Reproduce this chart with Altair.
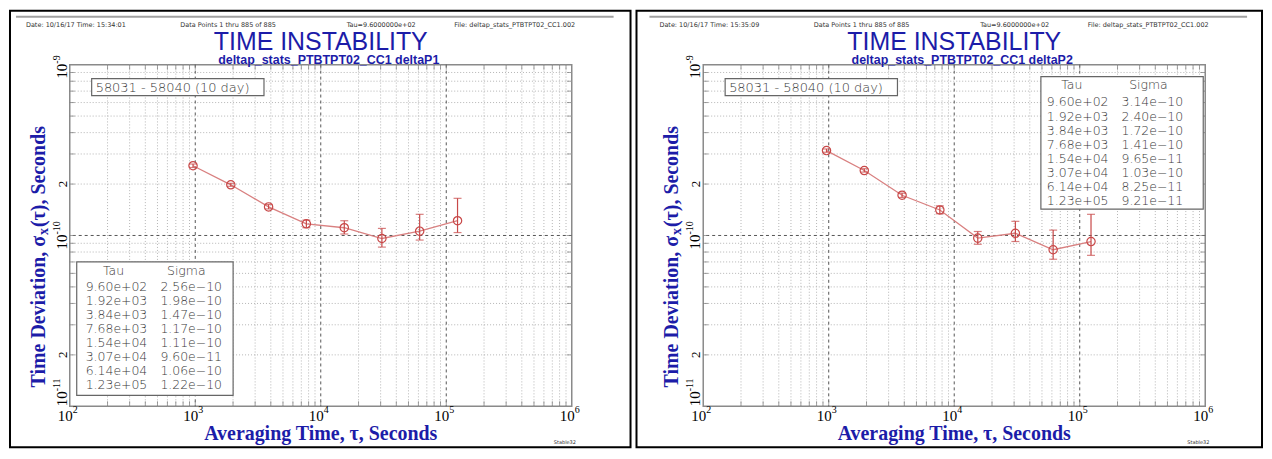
import altair as alt
import pandas as pd

# ---------------- data ----------------
tau = [960, 1920, 3840, 7680, 15400, 30700, 61400, 123000]
tau_txt = ["9.60e+02", "1.92e+03", "3.84e+03", "7.68e+03",
           "1.54e+04", "3.07e+04", "6.14e+04", "1.23e+05"]

sigma_p1 = [2.56e-10, 1.98e-10, 1.47e-10, 1.17e-10, 1.11e-10, 9.60e-11, 1.06e-10, 1.22e-10]
sigma_p1_txt = ["2.56e-10", "1.98e-10", "1.47e-10", "1.17e-10",
                "1.11e-10", "9.60e-11", "1.06e-10", "1.22e-10"]
lo_p1 = [2.50e-10, 1.94e-10, 1.43e-10, 1.11e-10, 1.02e-10, 8.55e-11, 9.40e-11, 1.04e-10]
hi_p1 = [2.62e-10, 2.02e-10, 1.52e-10, 1.23e-10, 1.22e-10, 1.10e-10, 1.33e-10, 1.65e-10]

sigma_p2 = [3.14e-10, 2.40e-10, 1.72e-10, 1.41e-10, 9.65e-11, 1.03e-10, 8.25e-11, 9.21e-11]
sigma_p2_txt = ["3.14e-10", "2.40e-10", "1.72e-10", "1.41e-10",
                "9.65e-11", "1.03e-10", "8.25e-11", "9.21e-11"]
lo_p2 = [3.07e-10, 2.35e-10, 1.67e-10, 1.34e-10, 8.88e-11, 9.22e-11, 7.26e-11, 7.65e-11]
hi_p2 = [3.21e-10, 2.46e-10, 1.77e-10, 1.49e-10, 1.055e-10, 1.21e-10, 1.075e-10, 1.33e-10]

x_tick_vals = [1e2, 1e3, 1e4, 1e5, 1e6]
x_tick_exp = ["2", "3", "4", "5", "6"]
y_tick_vals_upper = [1e-9, 1e-10]
y_tick_exp_upper = ["-9", "-10"]
y_tick_vals_lower = [1e-11]
y_tick_exp_lower = ["-11"]
y_minor_lab_vals = [2e-10, 2e-11]
major_x = [1e3, 1e4, 1e5]
major_y = [1e-10]
mults = [2, 3, 4, 5, 6, 7, 8, 9]
minor_x = [m * d for d in [1e2, 1e3, 1e4, 1e5] for m in mults]
minor_y = [m * d for d in [1e-11, 1e-10] for m in mults]

headers_p1 = ["Date: 10/16/17  Time: 15:34:01", "Data Points 1 thru 885 of 885",
              "Tau=9.6000000e+02", "File: deltap_stats_PTBTPT02_CC1.002"]
headers_p2 = ["Date: 10/16/17  Time: 15:35:09", "Data Points 1 thru 885 of 885",
              "Tau=9.6000000e+02", "File: deltap_stats_PTBTPT02_CC1.002"]
title_txt = "TIME INSTABILITY"
subtitle_p1 = "deltap_stats_PTBTPT02_CC1 deltaP1"
subtitle_p2 = "deltap_stats_PTBTPT02_CC1 deltaP2"
range_txt = "58031 - 58040 (10 day)"

# ---------------- style ----------------
W, H = 504, 343
BLUE = "#1c1ca8"
RED = "#c84848"
LINE = "#d98080"
SERIF = "Liberation Serif"
SANS = "DejaVu Sans"
GRID = "#b4b4b4"
TICK = "#777777"

XS = alt.Scale(type="log", domain=[1e2, 1e6], nice=False)
YS = alt.Scale(type="log", domain=[1e-11, 1e-9], nice=False)
one = pd.DataFrame({"k": [0]})


def txt(x, y, text, **kw):
    return alt.Chart(one).mark_text(**kw).encode(
        x=alt.value(x), y=alt.value(y), text=alt.value(text))


def panel(sig, lo, hi, sig_txt, headers, subtitle, tbl, frame_x):
    df = pd.DataFrame({"tau": tau, "sigma": sig, "lo": lo, "hi": hi})
    X = lambda f: alt.X(f, scale=XS, axis=None)
    Y = lambda f: alt.Y(f, scale=YS, axis=None)

    layers = []
    # frame around the whole panel
    layers.append(alt.Chart(one).mark_rect(fill="white", fillOpacity=0, stroke="black",
                                           strokeWidth=2).encode(
        x=alt.value(frame_x[0]), x2=alt.value(frame_x[1]),
        y=alt.value(-54), y2=alt.value(384)))
    # minor dotted grid
    layers.append(alt.Chart(pd.DataFrame({"v": minor_x})).mark_rule(
        color=GRID, strokeDash=[1, 2], strokeWidth=1).encode(x=X("v:Q")))
    layers.append(alt.Chart(pd.DataFrame({"v": minor_y})).mark_rule(
        color=GRID, strokeDash=[1, 2], strokeWidth=1).encode(y=Y("v:Q")))
    # major dashed grid
    layers.append(alt.Chart(pd.DataFrame({"v": major_x})).mark_rule(
        color="#555555", strokeDash=[3, 3], strokeWidth=1).encode(x=X("v:Q")))
    layers.append(alt.Chart(pd.DataFrame({"v": major_y})).mark_rule(
        color="#555555", strokeDash=[3, 3], strokeWidth=1).encode(y=Y("v:Q")))
    # inner ticks on the plot frame
    tx = pd.DataFrame({"v": minor_x + major_x})
    ty = pd.DataFrame({"v": minor_y + major_y})
    for yy in [2.5, H - 2.5]:
        layers.append(alt.Chart(tx).mark_tick(color=TICK, orient="vertical", size=5,
                                              thickness=1).encode(x=X("v:Q"), y=alt.value(yy)))
    for xx in [2.5, W - 2.5]:
        layers.append(alt.Chart(ty).mark_tick(color=TICK, orient="horizontal", size=5,
                                              thickness=1).encode(y=Y("v:Q"), x=alt.value(xx)))
    # header gray line
    layers.append(alt.Chart(one).mark_rule(color="#a0a0a0", strokeWidth=2).encode(
        x=alt.value(-54), x2=alt.value(546), y=alt.value(-48)))
    # header texts
    for hx, ht in zip([-44, 111, 278, 386], headers):
        layers.append(txt(hx, -40, ht, font=SANS, fontSize=6.5, color="#333333",
                          align="left", baseline="middle"))
    layers.append(txt(W / 2, -23, title_txt, font="Liberation Sans",
                      fontSize=25, color=BLUE, align="center", baseline="middle"))
    layers.append(txt(W / 2 + 8, -5, subtitle, font="Liberation Sans", fontSize=12.5,
                      fontWeight="bold", color=BLUE, align="center", baseline="middle"))
    # range box
    layers.append(alt.Chart(one).mark_rect(fill="white", stroke="#666666", strokeWidth=1.2).encode(
        x=alt.value(22), x2=alt.value(195), y=alt.value(14), y2=alt.value(31)))
    layers.append(txt(26, 23, range_txt, font=SANS, fontSize=13, fontWeight=300,
                      color="#3a3a3a", align="left", baseline="middle"))
    # table
    bx0, bx1, by0, by1, hy, ry, c1, c2, tcx, scx = tbl
    layers.append(alt.Chart(one).mark_rect(fill="white", stroke="#666666", strokeWidth=1.2).encode(
        x=alt.value(bx0), x2=alt.value(bx1), y=alt.value(by0), y2=alt.value(by1)))
    layers.append(txt(tcx, hy, "Tau", font=SANS, fontSize=12.5, fontWeight=300,
                      color="#3a3a3a", align="center", baseline="top"))
    layers.append(txt(scx, hy, "Sigma", font=SANS, fontSize=12.5, fontWeight=300,
                      color="#3a3a3a", align="center", baseline="top"))
    layers.append(alt.Chart(one).mark_text(text=tau_txt, lineHeight=14.1, font=SANS,
                                           fontSize=12.5, fontWeight=300, color="#3a3a3a",
                                           align="left", baseline="top").encode(
        x=alt.value(c1), y=alt.value(ry)))
    layers.append(alt.Chart(one).mark_text(text=[s.replace("-", "\u2212") for s in sig_txt],
                                           lineHeight=14.1, font=SANS,
                                           fontSize=12.5, fontWeight=300, color="#3a3a3a",
                                           align="left", baseline="top").encode(
        x=alt.value(c2), y=alt.value(ry)))
    # data
    layers.append(alt.Chart(df).mark_line(color=LINE, strokeWidth=1.3).encode(
        x=X("tau:Q"), y=Y("sigma:Q")))
    layers.append(alt.Chart(df).mark_rule(color=RED, strokeWidth=1.2).encode(
        x=X("tau:Q"), y=Y("lo:Q"), y2="hi:Q"))
    for f in ["lo", "hi"]:
        layers.append(alt.Chart(df).mark_tick(color=RED, orient="horizontal", size=8,
                                              thickness=1.2).encode(
            x=X("tau:Q"), y=Y(f + ":Q")))
    layers.append(alt.Chart(df).mark_point(shape="circle", filled=False, size=70,
                                           strokeWidth=1.2, color=RED, opacity=1).encode(
        x=X("tau:Q"), y=Y("sigma:Q")))
    # x tick labels
    xt = pd.DataFrame({"v": x_tick_vals, "e": x_tick_exp})
    layers.append(alt.Chart(xt).mark_text(font=SERIF, fontSize=15, align="right",
                                          baseline="middle", dx=3, color="black").encode(
        x=X("v:Q"), y=alt.value(353), text=alt.value("10")))
    layers.append(alt.Chart(xt).mark_text(font=SERIF, fontSize=10, align="left",
                                          baseline="middle", dx=3, dy=-6, color="black").encode(
        x=X("v:Q"), y=alt.value(353), text="e:N"))
    # y tick labels (rotated); lowest one kept above the corner
    for vals, exps, d in [(y_tick_vals_upper, y_tick_exp_upper, 1),
                          (y_tick_vals_lower, y_tick_exp_lower, 15)]:
        yt = pd.DataFrame({"v": vals, "e": exps})
        layers.append(alt.Chart(yt).mark_text(font=SERIF, fontSize=15, angle=270, align="right",
                                              baseline="alphabetic", dx=d, color="black").encode(
            y=Y("v:Q"), x=alt.value(-3), text=alt.value("10")))
        layers.append(alt.Chart(yt).mark_text(font=SERIF, fontSize=10, angle=270, align="left",
                                              baseline="alphabetic", dx=d, dy=-7,
                                              color="black").encode(
            y=Y("v:Q"), x=alt.value(-3), text="e:N"))
    layers.append(alt.Chart(pd.DataFrame({"v": y_minor_lab_vals})).mark_text(
        font=SERIF, fontSize=13, angle=270, align="center", baseline="alphabetic",
        color="black").encode(y=Y("v:Q"), x=alt.value(-3), text=alt.value("2")))
    # axis titles
    P = 172
    TX = -25
    layers.append(txt(TX, P, "Time Deviation, \u03c3", font=SERIF, fontSize=20,
                      fontWeight="bold", color=BLUE, angle=270, align="right",
                      baseline="alphabetic"))
    layers.append(txt(TX, P, "x", font=SERIF, fontSize=14, fontWeight="bold", color=BLUE,
                      angle=270, align="left", baseline="alphabetic", dx=1, dy=3))
    layers.append(txt(TX, P, "(\u03c4), Seconds", font=SERIF, fontSize=20,
                      fontWeight="bold", color=BLUE, angle=270, align="left",
                      baseline="alphabetic", dx=9))
    layers.append(txt(W / 2, 377, "Averaging Time, \u03c4, Seconds", font=SERIF, fontSize=20,
                      fontWeight="bold", color=BLUE, align="center", baseline="alphabetic"))
    layers.append(txt(486, 379, "Stable32", font=SANS, fontSize=5, color="#333333",
                      align="left", baseline="middle"))

    return alt.layer(*layers).properties(width=W, height=H)


tbl1 = (7, 164, 198, 332, 201, 217, 16, 91, 44, 117)
tbl2 = (339, 502, 12, 145, 14, 32, 345, 420, 370, 447)

p1 = panel(sigma_p1, lo_p1, hi_p1, sigma_p1_txt, headers_p1, subtitle_p1, tbl1, (-60, 563))
p2 = panel(sigma_p2, lo_p2, hi_p2, sigma_p2_txt, headers_p2, subtitle_p2, tbl2, (-67, 561))

chart = alt.hconcat(p1, p2, spacing=2).properties(padding=0, background="white").configure_view(
    stroke="#8a8a8a", strokeWidth=1.5)

chart.save("out.html", embed_options={"renderer": "svg", "actions": False})
